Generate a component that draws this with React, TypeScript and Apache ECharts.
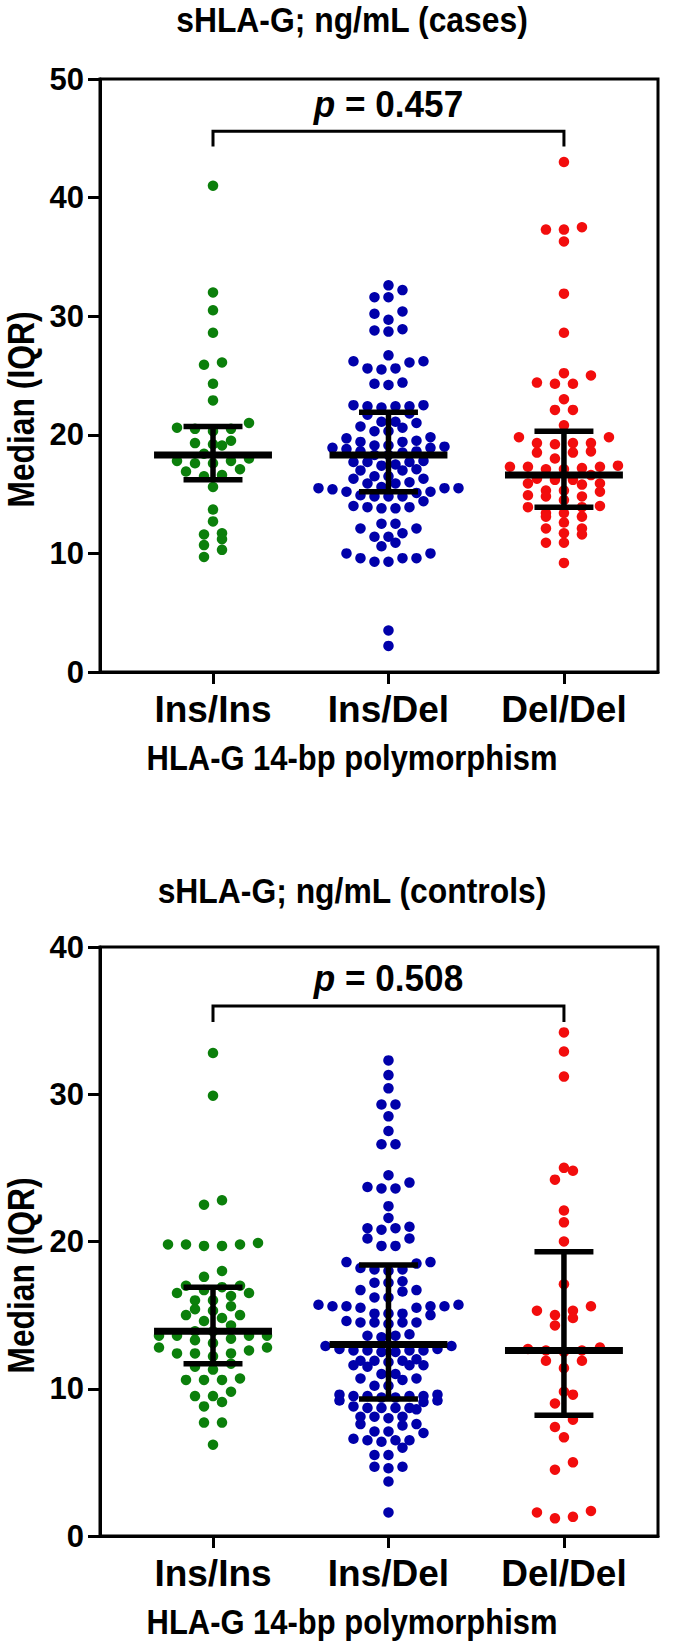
import React, { useEffect, useRef } from "react";
import * as echarts from "echarts";

// ---------- data ----------
const CATEGORIES = ["Ins/Ins", "Ins/Del", "Del/Del"];
const COLORS = ["#0b7f0b", "#0000aa", "#f20d0d"];
const TOP_TITLE = "sHLA-G; ng/mL (cases)";
const BOTTOM_TITLE = "sHLA-G; ng/mL (controls)";
const X_TITLE = "HLA-G 14-bp polymorphism";
const Y_TITLE = "Median (IQR)";
const TOP_Y_MAX = 50;
const BOTTOM_Y_MAX = 40;
const Y_INTERVAL = 10;

const CASES_INS_INS = [
  41.0, 32.0, 30.5, 28.6, 26.1, 25.9, 24.3, 22.9, 21.0, 20.5, 20.6, 20.5, 20.3,
  19.5, 19.1, 19.2, 19.3, 18.4, 17.6, 17.8, 18.0, 17.6, 17.8, 16.9, 17.1, 16.5,
  16.6, 15.6, 13.7, 12.7, 11.7, 11.6, 11.2, 10.7, 10.3, 9.7,
];
const CASES_INS_DEL = [
  32.6, 32.2, 31.6, 31.6, 30.2, 30.4, 29.7, 28.8, 28.9, 28.7, 26.7, 26.2, 26.1,
  26.2, 25.6, 25.5, 25.6, 24.3, 24.2, 24.4,
  22.5, 22.4, 22.4, 22.3, 22.4, 22.5, 21.7, 21.8, 21.1, 21.1, 21.0, 20.7, 20.6,
  20.3, 20.3, 19.7, 19.8, 19.4, 19.4, 19.5, 19.1, 19.1, 19.0, 18.9, 18.9, 18.8,
  18.6, 18.6, 18.5, 18.3, 18.3, 17.7, 17.7, 17.8, 17.7, 17.5, 17.4, 17.0, 17.0,
  17.1, 16.5, 16.5, 16.3, 16.3, 15.9, 15.9, 16.0, 15.5, 15.5, 15.6, 15.5, 15.4,
  15.2, 15.2, 15.1, 14.8, 14.8, 14.9, 14.8, 14.4, 13.9, 13.9, 14.0, 13.8, 13.8,
  12.5, 12.5, 12.1, 12.1, 11.7, 11.4, 11.4, 10.9, 10.6, 10.0, 10.0, 9.6, 9.6,
  9.6, 9.3, 9.3, 3.5, 2.2,
];
const CASES_DEL_DEL = [
  43.0, 37.3, 37.3, 37.5, 36.3, 31.9, 28.6, 25.2, 25.0, 24.3, 24.3, 24.4, 23.0,
  22.1, 22.1, 20.8, 19.8, 19.8, 19.3, 19.3, 19.2, 19.3, 18.5, 18.5, 18.6, 18.0,
  17.3, 17.3, 17.2, 17.3, 17.4, 17.1, 17.1, 16.6, 16.2, 16.2, 16.3, 15.9, 15.9,
  15.8, 15.3, 15.3, 15.2, 14.8, 14.8, 14.9, 14.5, 13.9, 13.9, 14.0, 13.4, 13.4,
  13.1, 13.1, 12.6, 12.1, 12.1, 11.7, 11.6, 10.9, 10.9, 9.2,
];
const CONTROLS_INS_INS = [
  32.8, 29.9, 22.8, 22.5, 19.7, 19.8, 19.7, 19.8, 19.9, 19.8, 18.0, 17.6, 16.9,
  16.7, 17.0, 17.0, 16.5, 16.5, 16.3, 16.0, 16.0, 15.6, 15.4, 15.3, 15.0, 15.0,
  14.8, 14.6, 14.3, 13.9, 13.9, 13.6, 13.6, 13.6, 13.6, 13.4, 13.3, 13.1, 12.8,
  12.8, 12.6, 12.4, 12.4, 12.4, 12.2, 11.7, 11.5, 11.3, 10.6, 10.6, 10.7, 10.6,
  9.8, 9.5, 9.5, 9.1, 8.8, 7.7, 7.7, 6.2,
];
const CONTROLS_INS_DEL = [
  32.3, 31.3, 30.4, 29.3, 29.3, 28.5, 27.5, 26.6, 26.6, 24.5, 24.0, 23.7, 23.6,
  23.6, 22.4, 21.6, 20.9, 20.8, 20.9, 21.0, 20.2, 20.2, 19.7, 19.7, 18.6, 18.6,
  18.5, 18.1, 18.1, 18.0, 18.2, 17.2, 17.2, 17.3, 16.7, 16.7, 16.6, 16.2, 16.2,
  15.6, 15.6, 15.7, 15.5, 15.6, 15.7, 15.6, 15.5, 15.1, 15.1, 15.0, 15.1, 14.5,
  14.5, 14.6, 14.4, 14.5, 14.5, 13.6, 13.6, 13.7, 13.5, 12.9, 12.9, 12.6, 12.6,
  12.7, 12.5, 12.6, 12.6, 12.7, 12.5, 11.9, 11.9, 11.8, 12.0, 11.9, 11.6, 11.6,
  11.5, 11.6, 11.0, 11.0, 10.7, 10.7, 10.6, 10.2, 10.2, 9.5, 9.5, 9.6, 9.4, 9.5,
  9.5, 9.6, 9.4, 9.2, 9.2, 9.1, 8.7, 8.7, 8.8, 8.6, 8.7, 8.7, 8.1, 8.1, 8.0, 8.1,
  7.6, 7.6, 7.5, 7.1, 7.1, 7.0, 6.5, 6.5, 6.4, 6.5, 6.6, 6.0, 5.5, 5.5, 4.7,
  4.7, 4.6, 3.7, 1.6,
];
const CONTROLS_DEL_DEL = [
  34.2, 32.9, 31.2, 25.0, 24.8, 24.2, 22.1, 21.3, 20.0, 17.1, 15.6, 15.3, 15.3,
  15.0, 14.8, 14.3, 12.6, 12.7, 12.6, 12.5, 12.8, 11.9, 11.9, 11.4, 9.8, 9.6,
  9.0, 7.9, 7.4, 6.7, 5.0, 4.5, 1.7, 1.2, 1.6, 1.3,
];

const CASES_MEDIAN = [18.3, 18.3, 16.6];
const CASES_Q1 = [16.2, 15.2, 13.9];
const CASES_Q3 = [20.7, 21.9, 20.3];
const CONTROLS_MEDIAN = [13.9, 13.0, 12.6];
const CONTROLS_Q1 = [11.7, 9.3, 8.2];
const CONTROLS_Q3 = [16.9, 18.4, 19.3];

const CASES_P = "0.457";
const CONTROLS_P = "0.508";
// [bar level, tick end level, label level]
const CASES_BRACKET = [45.6, 44.3, 47.9];
const CONTROLS_BRACKET = [36.0, 34.9, 37.9];

// ---------- layout ----------
const W = 689;
const H = 1648;
const FONT = '"Liberation Sans", Arial, Helvetica, sans-serif';
const GRID_LEFT = 100;
const GRID_WIDTH = 558;
const TOP_GRID = { top: 79, height: 593 };
const BOTTOM_GRID = { top: 947, height: 589 };
const X_MIN = 0.356;
const X_MAX = 3.536;
const DOT = 10.5;
const ROW_PX = 9;
const MAX_STEP_PX = 18;
const MAX_WIDTH_PX = 140;
const MEDIAN_HALF = 0.336;
const CAP_HALF = 0.168;
const BIG_TEXT = 36;
const CAT_SIZE = 37;
const P_SIZE = 37;
const TICK_SIZE = 31;
const TITLE_X = 352;
const Y_TITLE_X = 21;
const Y_TITLE_SHIFT = 34;

function swarmOffsets(values: number[], pxPerValue: number, pxPerX: number): number[] {
  const idx = values.map((_, i) => i).sort((a, b) => values[a] - values[b]);
  const rows: number[][] = [];
  let cur: number[] = [];
  let start = 0;
  for (const i of idx) {
    if (cur.length && (values[i] - start) * pxPerValue < ROW_PX) cur.push(i);
    else {
      if (cur.length) rows.push(cur);
      cur = [i];
      start = values[i];
    }
  }
  if (cur.length) rows.push(cur);
  const maxN = Math.max(...rows.map((r) => r.length));
  const step = maxN > 1 ? Math.min(MAX_STEP_PX, MAX_WIDTH_PX / (maxN - 1)) : MAX_STEP_PX;
  const off = new Array(values.length).fill(0);
  rows.forEach((r) => {
    const n = r.length;
    const slots = Array.from({ length: n }, (_, j) => j - (n - 1) / 2);
    slots.sort((a, b) => Math.abs(a) - Math.abs(b) || a - b);
    r.forEach((pi, k) => {
      off[pi] = (slots[k] * step) / pxPerX;
    });
  });
  return off;
}

function buildScatter(groups: number[][], gridIdx: number, pxPerValue: number) {
  const pxPerX = GRID_WIDTH / (X_MAX - X_MIN);
  return groups.map((vals, g) => {
    const offs = swarmOffsets(vals, pxPerValue, pxPerX);
    return {
      type: "scatter",
      xAxisIndex: gridIdx,
      yAxisIndex: gridIdx,
      symbol: "circle",
      symbolSize: DOT,
      itemStyle: { color: COLORS[g], opacity: 1 },
      z: 2,
      data: vals.map((v, i) => [g + 1 + offs[i], v]),
    };
  });
}

const line = (p: number[], q: number[], w: number) => ({
  type: "line",
  shape: { x1: p[0], y1: p[1], x2: q[0], y2: q[1] },
  style: { stroke: "#000", lineWidth: w },
});

const statsItem = (_params: any, api: any) => {
  const x = api.value(0);
  const med = api.value(1);
  const q1 = api.value(2);
  const q3 = api.value(3);
  return {
    type: "group",
    children: [
      line(api.coord([x, q3]), api.coord([x, q1]), 5.5),
      line(api.coord([x - CAP_HALF, q3]), api.coord([x + CAP_HALF, q3]), 5.5),
      line(api.coord([x - CAP_HALF, q1]), api.coord([x + CAP_HALF, q1]), 5.5),
      line(api.coord([x - MEDIAN_HALF, med]), api.coord([x + MEDIAN_HALF, med]), 7),
    ],
  };
};

function statsSeries(med: number[], q1: number[], q3: number[], gridIdx: number) {
  return {
    type: "custom",
    xAxisIndex: gridIdx,
    yAxisIndex: gridIdx,
    z: 5,
    renderItem: statsItem,
    data: med.map((m, i) => [i + 1, m, q1[i], q3[i]]),
  };
}

function bracketSeries(b: number[], p: string, gridIdx: number) {
  return {
    type: "custom",
    xAxisIndex: gridIdx,
    yAxisIndex: gridIdx,
    z: 5,
    renderItem: (_params: any, api: any) => {
      const x1 = api.value(0);
      const x2 = api.value(1);
      const yb = api.value(2);
      const yt = api.value(3);
      const yl = api.value(4);
      const lab = api.coord([(x1 + x2) / 2, yl]);
      return {
        type: "group",
        children: [
          {
            type: "polyline",
            shape: {
              points: [api.coord([x1, yt]), api.coord([x1, yb]), api.coord([x2, yb]), api.coord([x2, yt])],
            },
            style: { stroke: "#000", lineWidth: 3, fill: "none" },
          },
          {
            type: "text",
            x: lab[0],
            y: lab[1],
            scaleX: 0.95,
            style: {
              text: "{i|p}{n| = " + p + "}",
              align: "center",
              verticalAlign: "middle",
              fill: "#000",
              rich: {
                i: { fontStyle: "italic", fontWeight: "bold", fontSize: P_SIZE, fontFamily: FONT, fill: "#000" },
                n: { fontWeight: "bold", fontSize: P_SIZE, fontFamily: FONT, fill: "#000" },
              },
            },
          },
        ],
      };
    },
    data: [[1, 3, b[0], b[1], b[2]]],
  };
}

const textStyle = (size: number) => ({
  fontSize: size,
  fontWeight: "bold" as const,
  fontFamily: FONT,
  color: "#000",
});

function xAxis(gridIdx: number) {
  return {
    type: "value",
    gridIndex: gridIdx,
    min: X_MIN,
    max: X_MAX,
    axisLine: { show: true, onZero: false, lineStyle: { color: "#000", width: 3 } },
    axisTick: { show: true, customValues: [1, 2, 3], length: 12, lineStyle: { color: "#000", width: 3 } },
    axisLabel: {
      show: true,
      customValues: [1, 2, 3],
      formatter: (v: number) => CATEGORIES[Math.round(v) - 1] ?? "",
      margin: 19,
      ...textStyle(CAT_SIZE),
    },
    splitLine: { show: false },
  };
}

function yAxis(gridIdx: number, max: number) {
  return {
    type: "value",
    gridIndex: gridIdx,
    min: 0,
    max,
    interval: Y_INTERVAL,
    axisLine: { show: true, lineStyle: { color: "#000", width: 3 } },
    axisTick: { show: true, length: 12, lineStyle: { color: "#000", width: 3 } },
    axisLabel: { margin: 16, ...textStyle(TICK_SIZE) },
    splitLine: { show: false },
  };
}

const condensedText = (text: string, x: number, y: number, size: number, scaleX: number, rotation = 0) => ({
  type: "text",
  x,
  y,
  rotation,
  scaleX,
  style: { text, align: "center", verticalAlign: "middle", fill: "#000", fontSize: size, fontWeight: "bold", fontFamily: FONT },
});

export default function App() {
  const ref = useRef<HTMLDivElement>(null);
  useEffect(() => {
    if (!ref.current) return;
    const chart = echarts.init(ref.current, undefined, { renderer: "svg" });
    chart.setOption({
      animation: false,
      backgroundColor: "#fff",
      grid: [
        { left: GRID_LEFT, width: GRID_WIDTH, ...TOP_GRID, show: true, borderColor: "#000", borderWidth: 3 },
        { left: GRID_LEFT, width: GRID_WIDTH, ...BOTTOM_GRID, show: true, borderColor: "#000", borderWidth: 3 },
      ],
      xAxis: [xAxis(0), xAxis(1)],
      yAxis: [yAxis(0, TOP_Y_MAX), yAxis(1, BOTTOM_Y_MAX)],
      graphic: [
        condensedText(TOP_TITLE, TITLE_X, 19, BIG_TEXT, 0.885),
        condensedText(X_TITLE, TITLE_X, 758, BIG_TEXT, 0.86),
        condensedText(BOTTOM_TITLE, TITLE_X, 890, BIG_TEXT, 0.885),
        condensedText(X_TITLE, TITLE_X, 1622, BIG_TEXT, 0.86),
        condensedText(Y_TITLE, Y_TITLE_X, TOP_GRID.top + TOP_GRID.height / 2 + Y_TITLE_SHIFT, 37, 0.86, Math.PI / 2),
        condensedText(Y_TITLE, Y_TITLE_X, BOTTOM_GRID.top + BOTTOM_GRID.height / 2 + Y_TITLE_SHIFT, 37, 0.86, Math.PI / 2),
      ],
      series: [
        ...buildScatter([CASES_INS_INS, CASES_INS_DEL, CASES_DEL_DEL], 0, TOP_GRID.height / TOP_Y_MAX),
        ...buildScatter([CONTROLS_INS_INS, CONTROLS_INS_DEL, CONTROLS_DEL_DEL], 1, BOTTOM_GRID.height / BOTTOM_Y_MAX),
        statsSeries(CASES_MEDIAN, CASES_Q1, CASES_Q3, 0),
        statsSeries(CONTROLS_MEDIAN, CONTROLS_Q1, CONTROLS_Q3, 1),
        bracketSeries(CASES_BRACKET, CASES_P, 0),
        bracketSeries(CONTROLS_BRACKET, CONTROLS_P, 1),
      ],
    });
    return () => chart.dispose();
  }, []);
  return <div ref={ref} style={{ position: "absolute", left: 0, top: 0, width: W, height: H }} />;
}
